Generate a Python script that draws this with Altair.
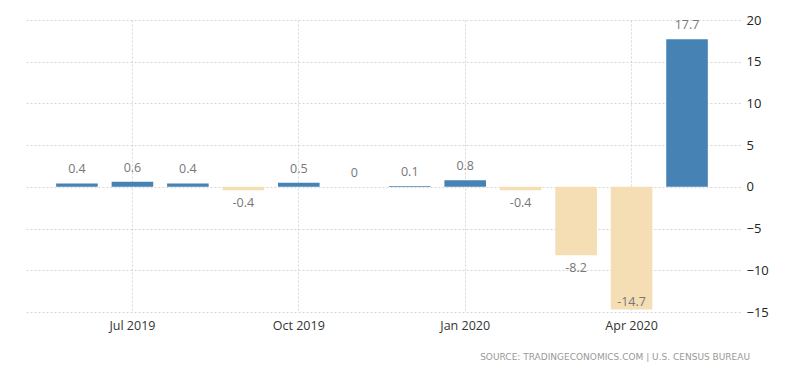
import altair as alt
import pandas as pd

months = ["Jun 2019", "Jul 2019", "Aug 2019", "Sep 2019", "Oct 2019", "Nov 2019",
          "Dec 2019", "Jan 2020", "Feb 2020", "Mar 2020", "Apr 2020", "May 2020"]
values = [0.4, 0.6, 0.4, -0.4, 0.5, 0, 0.1, 0.8, -0.4, -8.2, -14.7, 17.7]
x_ticks = ["Jul 2019", "Oct 2019", "Jan 2020", "Apr 2020"]
y_ticks = [-15, -10, -5, 0, 5, 10, 15, 20]
source_text = "SOURCE: TRADINGECONOMICS.COM | U.S. CENSUS BUREAU"

df = pd.DataFrame({
    "month": months,
    "value": values,
    "label": [f"{v:g}" for v in values],
})

FONT = "Open Sans"

x = alt.X("month:N", sort=months, title=None,
          scale=alt.Scale(paddingInner=0.25, paddingOuter=0.58),
          axis=alt.Axis(values=x_ticks, grid=True, bandPosition=0.5, ticks=False,
                        domain=False, labelAngle=0, labelPadding=7, labelFontSize=12.5,
                        labelColor="#333333", labelFont=FONT,
                        gridColor="#d6d6d6", gridDash=[2, 2]))
y_scale = alt.Scale(domain=[-15, 20], nice=False)

bars = alt.Chart(df).mark_bar().encode(
    x=x,
    y=alt.Y("value:Q", scale=y_scale, title=None,
            axis=alt.Axis(orient="right", values=y_ticks, grid=True, domain=False,
                          ticks=False, labelPadding=6, labelFontSize=13,
                          labelColor="#222222", labelFont=FONT,
                          gridColor="#d6d6d6", gridDash=[2, 2])),
    color=alt.condition(alt.datum.value >= 0, alt.value("#4682b4"), alt.value("#f5deb3")),
)

labels = alt.Chart(df).transform_calculate(
    labelY="datum.value >= 0 ? datum.value + 1.7 : max(datum.value - 1.5, -13.8)"
).mark_text(fontSize=12.5, color="#777777", font=FONT, baseline="middle").encode(
    x=alt.X("month:N", sort=months),
    y=alt.Y("labelY:Q", scale=y_scale),
    text="label:N",
)

source = alt.Chart(pd.DataFrame({"t": [source_text]})).mark_text(
    align="right", baseline="middle", fontSize=9, color="#999999", font="DejaVu Sans"
).encode(x=alt.value(726), y=alt.value(337), text="t:N")

chart = alt.layer(bars, labels, source).properties(
    width=716, height=292,
    padding={"left": 16, "top": 6, "right": 5, "bottom": 5},
).configure_view(stroke=None)

chart.save("out.html", embed_options={"renderer": "svg", "actions": False})
